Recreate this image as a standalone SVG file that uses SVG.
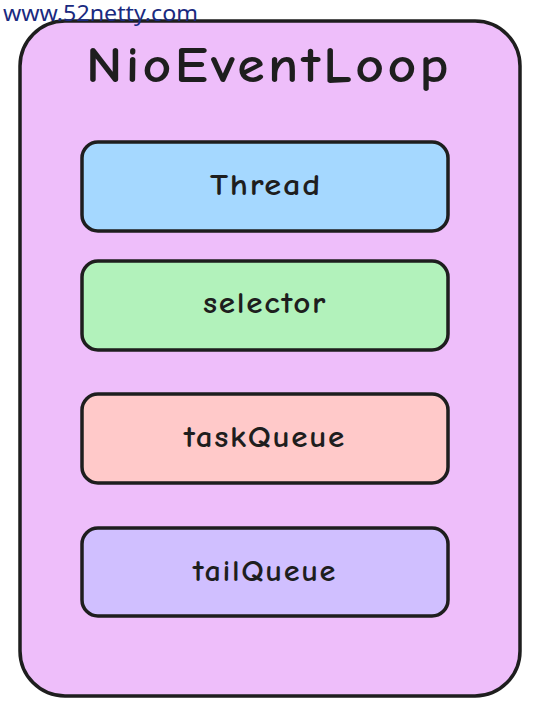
<svg xmlns="http://www.w3.org/2000/svg" width="539" height="716" viewBox="0 0 539 716">
<style>
.box{stroke:#1e1e1e;stroke-width:3.5;stroke-linejoin:round}
.lbl{font-family:"Comic Neue","Lato","Liberation Sans",sans-serif;font-size:30px;font-weight:bold;fill:#1e1e1e;text-anchor:middle;letter-spacing:1.5px}
.title{font-family:"Comic Neue","Lato","Liberation Sans",sans-serif;font-size:50px;font-weight:bold;fill:#1e1e1e;text-anchor:middle;letter-spacing:3px}
.wm{font-family:"Noto Sans","Liberation Sans",sans-serif;font-size:21px;fill:#1a2a80}
</style>
<rect width="539" height="716" fill="#ffffff"/>
<g id="NioEventLoop">
<rect class="box" x="20" y="21" width="500" height="675" rx="45" fill="#eebefa"/>
<text class="title" x="269" y="82" textLength="366" lengthAdjust="spacingAndGlyphs">NioEventLoop</text>
</g>
<g id="Thread">
<rect class="box" x="82" y="142" width="366" height="89" rx="16" fill="#a5d8ff"/>
<text class="lbl" x="266" y="195" textLength="112" lengthAdjust="spacingAndGlyphs">Thread</text>
</g>
<g id="selector">
<rect class="box" x="82" y="261" width="366" height="89" rx="16" fill="#b2f2bb"/>
<text class="lbl" x="265" y="313" textLength="124" lengthAdjust="spacingAndGlyphs">selector</text>
</g>
<g id="taskQueue">
<rect class="box" x="82" y="394" width="366" height="89" rx="16" fill="#ffc9c9"/>
<text class="lbl" x="265" y="447" textLength="162" lengthAdjust="spacingAndGlyphs">taskQueue</text>
</g>
<g id="tailQueue">
<rect class="box" x="82" y="528" width="366" height="88" rx="16" fill="#d0bfff"/>
<text class="lbl" x="265" y="581" textLength="144" lengthAdjust="spacingAndGlyphs">tailQueue</text>
</g>
<g id="connectors"></g>
<text class="wm" x="3" y="21" textLength="195" lengthAdjust="spacingAndGlyphs">www.52netty.com</text>
</svg>
